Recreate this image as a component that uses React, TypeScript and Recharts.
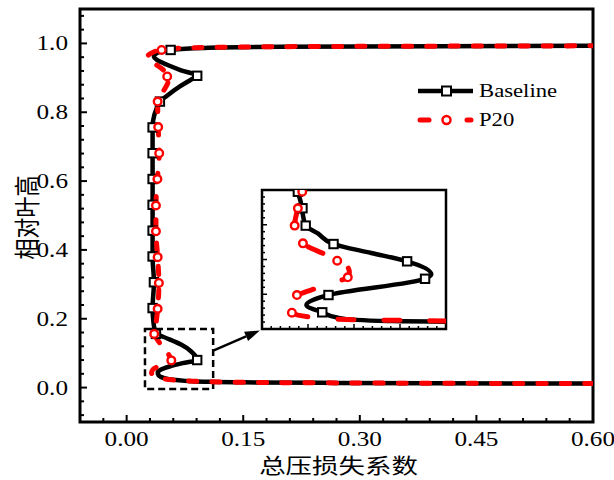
import React from 'react';
import {
  ComposedChart,
  Line,
  Scatter,
  XAxis,
  YAxis,
  ReferenceArea,
  ReferenceLine,
  Legend,
  Label,
} from 'recharts';

// main plot: x = 总压损失系数, y = 相对叶高
const baseX = [0.6, 0.4, 0.25, 0.15, 0.1, 0.075, 0.058, 0.047, 0.041, 0.04, 0.045, 0.056, 0.072, 0.0908, 0.083, 0.07, 0.053, 0.042, 0.0377, 0.0345, 0.0334, 0.0351, 0.0334, 0.0334, 0.0334, 0.0334, 0.0334, 0.0334, 0.0428, 0.052, 0.0685, 0.083, 0.0908, 0.07, 0.052, 0.039, 0.0351, 0.039, 0.0566, 0.1, 0.2, 0.4, 0.6];
const baseY = [0.0116, 0.0125, 0.0138, 0.0152, 0.017, 0.0195, 0.023, 0.0285, 0.036, 0.044, 0.053, 0.062, 0.071, 0.08, 0.105, 0.125, 0.142, 0.152, 0.156, 0.19, 0.231, 0.306, 0.381, 0.456, 0.531, 0.606, 0.681, 0.756, 0.831, 0.848, 0.875, 0.895, 0.906, 0.922, 0.938, 0.952, 0.962, 0.972, 0.981, 0.987, 0.99, 0.992, 0.993];
const p20X = [0.6, 0.4, 0.25, 0.15, 0.1, 0.075, 0.058, 0.046, 0.037, 0.032, 0.034, 0.042, 0.052, 0.0575, 0.054, 0.047, 0.04, 0.0355, 0.038, 0.0399, 0.0415, 0.0399, 0.0377, 0.0377, 0.0396, 0.0419, 0.0406, 0.0399, 0.047, 0.0535, 0.054, 0.046, 0.034, 0.0265, 0.032, 0.045, 0.07, 0.15, 0.3, 0.6];
const p20Y = [0.0116, 0.0125, 0.0138, 0.0152, 0.0175, 0.02, 0.0225, 0.026, 0.033, 0.043, 0.053, 0.063, 0.072, 0.079, 0.096, 0.116, 0.138, 0.156, 0.19, 0.229, 0.304, 0.379, 0.454, 0.529, 0.606, 0.681, 0.757, 0.831, 0.86, 0.89, 0.906, 0.925, 0.945, 0.96, 0.972, 0.981, 0.986, 0.9895, 0.9915, 0.993];

// symbols in the main plot
const baseMarkX = [0.0908, 0.0377, 0.0334, 0.0351, 0.0334, 0.0334, 0.0334, 0.0334, 0.0334, 0.0334, 0.0428, 0.0908, 0.0566];
const baseMarkY = [0.08, 0.156, 0.231, 0.306, 0.381, 0.456, 0.531, 0.606, 0.681, 0.756, 0.831, 0.906, 0.981];
const p20MarkX = [0.0575, 0.0355, 0.0399, 0.0415, 0.0399, 0.0377, 0.0377, 0.0396, 0.0419, 0.0406, 0.0399, 0.0522, 0.045];
const p20MarkY = [0.079, 0.156, 0.229, 0.304, 0.379, 0.454, 0.529, 0.606, 0.681, 0.757, 0.831, 0.904, 0.981];

// zoomed inset (hub region)
const insetBaseX = [0.12, 0.1, 0.0747, 0.06, 0.053, 0.0462, 0.0393, 0.0489, 0.0909, 0.0936, 0.0831, 0.0675, 0.0511, 0.0443, 0.039, 0.0378, 0.0368, 0.0354, 0.035];
const insetBaseY = [0.0082, 0.0084, 0.0092, 0.0107, 0.013, 0.0192, 0.0276, 0.0391, 0.0578, 0.063, 0.0779, 0.0875, 0.0978, 0.11, 0.119, 0.131, 0.1465, 0.16, 0.17];
const insetP20X = [0.12, 0.1, 0.085, 0.07, 0.05, 0.042, 0.0356, 0.033, 0.0298, 0.0352, 0.0436, 0.0523, 0.0573, 0.058, 0.0566, 0.0527, 0.048, 0.0378, 0.0362, 0.0342, 0.0356, 0.0375, 0.038];
const insetP20Y = [0.0088, 0.0092, 0.0098, 0.0103, 0.0115, 0.0135, 0.016, 0.0188, 0.0276, 0.0391, 0.0468, 0.0544, 0.0595, 0.065, 0.0736, 0.0786, 0.0852, 0.0986, 0.108, 0.119, 0.139, 0.158, 0.17];
const insetBaseMarkX = [0.0462, 0.0489, 0.0909, 0.0831, 0.0511, 0.039, 0.0376, 0.0356];
const insetBaseMarkY = [0.0192, 0.0391, 0.0578, 0.0779, 0.0978, 0.119, 0.139, 0.158];
const insetP20MarkX = [0.033, 0.0352, 0.0573, 0.0527, 0.0378, 0.0342, 0.0356, 0.0375];
const insetP20MarkY = [0.0188, 0.0391, 0.0595, 0.0786, 0.0986, 0.119, 0.139, 0.158];

// axes
const xDomain = [-0.06, 0.6];
const yDomain = [-0.1, 1.1];
const xMajorTicks = [0, 0.15, 0.3, 0.45, 0.6];
const xTicks = [-0.03, 0, 0.03, 0.06, 0.09, 0.12, 0.15, 0.18, 0.21, 0.24, 0.27, 0.3, 0.33, 0.36, 0.39, 0.42, 0.45, 0.48, 0.51, 0.54, 0.57, 0.6];
const yMajorTicks = [0, 0.2, 0.4, 0.6, 0.8, 1.0];
const yTicks = [-0.08, -0.04, 0, 0.04, 0.08, 0.12, 0.16, 0.2, 0.24, 0.28, 0.32, 0.36, 0.4, 0.44, 0.48, 0.52, 0.56, 0.6, 0.64, 0.68, 0.72, 0.76, 0.8, 0.84, 0.88, 0.92, 0.96, 1, 1.04, 1.08];
const insetXDomain = [0.02, 0.1];
const insetYDomain = [0, 0.16];
const insetXMajor = [0.04, 0.06, 0.08];
const insetXTicks = [0.024, 0.028, 0.032, 0.036, 0.04, 0.044, 0.048, 0.052, 0.056, 0.06, 0.064, 0.068, 0.072, 0.076, 0.08, 0.084, 0.088, 0.092, 0.096];
const insetYMajor = [0.04, 0.08, 0.12];
const insetYTicks = [0.008, 0.016, 0.024, 0.032, 0.04, 0.048, 0.056, 0.064, 0.072, 0.08, 0.088, 0.096, 0.104, 0.112, 0.12, 0.128, 0.136, 0.144, 0.152];

// dashed zoom box and arrow to the inset
const boxX = [0.0236, 0.1113];
const boxY = [-0.004, 0.17];
const arrowX = [0.1122, 0.1714];
const arrowY = [0.108, 0.166];

const seriesNames = ['Baseline', 'P20'];
const xTitle = '总压损失系数';
const yTitle = '相对叶高';

const SERIF = '"Liberation Serif", "Times New Roman", serif';
const CJK = '"Noto Sans CJK SC", sans-serif';
const SX = 1.26; // the original figure is stretched horizontally
const RED = '#ff0000';

const pts = (xs: number[], ys: number[]) => xs.map((x, i) => ({ x, y: ys[i] }));
const isMajor = (v: number, majors: number[]) => majors.some((m) => Math.abs(m - v) < 1e-9);

const SquareDot = (props: any) => (
  <rect x={props.cx - 4.2} y={props.cy - 4.2} width={8.4} height={8.4} fill="#fff" stroke="#000" strokeWidth={2} />
);
const CircleDot = (props: any) => (
  <circle cx={props.cx} cy={props.cy} r={3.8} fill="#fff" stroke={RED} strokeWidth={2.4} />
);

const renderXTick = (props: any) => {
  const { x, y, payload } = props;
  const major = isMajor(payload.value, xMajorTicks);
  return (
    <g>
      <line x1={x} y1={y} x2={x} y2={y - (major ? 7 : 4)} stroke="#000" strokeWidth={2} />
      {major && (
        <text transform={`translate(${x},${y + 24}) scale(${SX},1)`} textAnchor="middle" fontFamily={SERIF} fontSize={20} fill="#000">
          {payload.value.toFixed(2)}
        </text>
      )}
    </g>
  );
};

const renderYTick = (props: any) => {
  const { x, y, payload } = props;
  const major = isMajor(payload.value, yMajorTicks);
  return (
    <g>
      <line x1={x} y1={y} x2={x + (major ? 7 : 4)} y2={y} stroke="#000" strokeWidth={2} />
      {major && (
        <text transform={`translate(${x - 12},${y + 7}) scale(${SX},1)`} textAnchor="end" fontFamily={SERIF} fontSize={20} fill="#000">
          {payload.value.toFixed(1)}
        </text>
      )}
    </g>
  );
};

const insetXTick = (props: any) => {
  const { x, y, payload } = props;
  const len = isMajor(payload.value, insetXMajor) ? 5 : 3;
  return <line x1={x} y1={y} x2={x} y2={y - len} stroke="#000" strokeWidth={1.5} />;
};
const insetYTick = (props: any) => {
  const { x, y, payload } = props;
  const len = isMajor(payload.value, insetYMajor) ? 5 : 3;
  return <line x1={x} y1={y} x2={x + len} y2={y} stroke="#000" strokeWidth={1.5} />;
};

const renderXTitle = (props: any) => {
  const vb = props.viewBox;
  return (
    <text transform={`translate(${vb.x + vb.width / 2 + 2},${vb.y + 51}) scale(${SX},1)`} textAnchor="middle" fontFamily={CJK} fontSize={21} fill="#000">
      {xTitle}
    </text>
  );
};
const renderYTitle = (props: any) => {
  const vb = props.viewBox;
  return (
    <text transform={`translate(${vb.x + 25},${vb.y + vb.height / 2 + 2}) scale(${SX},1) rotate(-90)`} textAnchor="middle" dominantBaseline="central" fontFamily={CJK} fontSize={21} fill="#000">
      {yTitle}
    </text>
  );
};

const Arrow = (props: any) => {
  const { x1, y1, x2, y2 } = props;
  const a = Math.atan2(y2 - y1, x2 - x1);
  const bx = x2 - 15 * Math.cos(a);
  const by = y2 - 15 * Math.sin(a);
  const px = -Math.sin(a) * 5;
  const py = Math.cos(a) * 5;
  return (
    <g>
      <line x1={x1} y1={y1} x2={bx} y2={by} stroke="#000" strokeWidth={2.5} />
      <polygon points={`${x2},${y2} ${bx + px},${by + py} ${bx - px},${by - py}`} fill="#000" />
    </g>
  );
};

const renderLegend = () => (
  <div style={{ fontFamily: SERIF, fontSize: 18, color: '#000' }}>
    {seriesNames.map((name, i) => (
      <div key={name} style={{ display: 'flex', alignItems: 'center', height: 29 }}>
        <svg width={58} height={20}>
          {i === 0 ? (
            <g>
              <line x1={2} y1={10} x2={57} y2={10} stroke="#000" strokeWidth={4.5} />
              <rect x={26} y={5.5} width={9} height={9} fill="#fff" stroke="#000" strokeWidth={2} />
            </g>
          ) : (
            <g>
              <line x1={4} y1={10} x2={13} y2={10} stroke={RED} strokeWidth={5} strokeLinecap="round" />
              <line x1={51} y1={10} x2={55} y2={10} stroke={RED} strokeWidth={5} strokeLinecap="round" />
              <circle cx={30.5} cy={10} r={4} fill="#fff" stroke={RED} strokeWidth={2.5} />
            </g>
          )}
        </svg>
        <span style={{ display: 'inline-block', marginLeft: 5, transform: `scaleX(${SX})`, transformOrigin: 'left center', lineHeight: '20px' }}>
          {name}
        </span>
      </div>
    ))}
  </div>
);

function Inset() {
  return (
    <div style={{ position: 'absolute', left: 259, top: 187 }}>
      <ComposedChart width={190} height={145} margin={{ top: 3, right: 3, bottom: 2, left: 2 }}>
        <XAxis
          dataKey="x"
          type="number"
          domain={insetXDomain}
          allowDataOverflow
          ticks={insetXTicks}
          interval={0}
          height={1}
          tickSize={0}
          tickMargin={0}
          tickLine={false}
          axisLine={false}
          tick={insetXTick}
        />
        <YAxis
          type="number"
          domain={insetYDomain}
          allowDataOverflow
          ticks={insetYTicks}
          interval={0}
          width={1}
          tickSize={0}
          tickMargin={0}
          tickLine={false}
          axisLine={false}
          tick={insetYTick}
        />
        <ReferenceArea x1={insetXDomain[0]} x2={insetXDomain[1]} y1={insetYDomain[0]} y2={insetYDomain[1]} fill="none" stroke="#000" strokeWidth={2.5} ifOverflow="visible" />
        <Line data={pts(insetBaseX, insetBaseY)} dataKey="y" type="monotoneY" stroke="#000" strokeWidth={4.5} dot={false} activeDot={false} isAnimationActive={false} />
        <Scatter data={pts(insetBaseMarkX, insetBaseMarkY)} dataKey="y" shape={SquareDot} isAnimationActive={false} />
        <Line data={pts(insetP20X, insetP20Y)} dataKey="y" type="monotoneY" stroke={RED} strokeWidth={5} strokeDasharray="16 30" strokeLinecap="round" dot={false} activeDot={false} isAnimationActive={false} />
        <Scatter data={pts(insetP20MarkX, insetP20MarkY)} dataKey="y" shape={CircleDot} isAnimationActive={false} />
      </ComposedChart>
    </div>
  );
}

export default function App() {
  return (
    <div style={{ position: 'absolute', left: 0, top: 0, width: 614, height: 480, background: '#fff' }}>
      <ComposedChart width={614} height={480} margin={{ top: 9, right: 21, bottom: 0, left: 0 }}>
        <XAxis
          dataKey="x"
          type="number"
          domain={xDomain}
          allowDataOverflow
          ticks={xTicks}
          interval={0}
          height={58}
          tickSize={0}
          tickMargin={0}
          tickLine={false}
          axisLine={false}
          tick={renderXTick}
        >
          <Label content={renderXTitle} />
        </XAxis>
        <YAxis
          type="number"
          domain={yDomain}
          allowDataOverflow
          ticks={yTicks}
          interval={0}
          width={80}
          tickSize={0}
          tickMargin={0}
          tickLine={false}
          axisLine={false}
          tick={renderYTick}
        >
          <Label content={renderYTitle} />
        </YAxis>
        <ReferenceArea x1={xDomain[0]} x2={xDomain[1]} y1={yDomain[0]} y2={yDomain[1]} fill="none" stroke="#000" strokeWidth={3} ifOverflow="visible" />
        <ReferenceArea x1={boxX[0]} x2={boxX[1]} y1={boxY[0]} y2={boxY[1]} fill="none" stroke="#000" strokeWidth={2.5} strokeDasharray="7 4" ifOverflow="visible" />
        <ReferenceLine
          segment={[
            { x: arrowX[0], y: arrowY[0] },
            { x: arrowX[1], y: arrowY[1] },
          ]}
          shape={Arrow}
          ifOverflow="visible"
        />
        <Line data={pts(baseX, baseY)} dataKey="y" type="monotoneY" stroke="#000" strokeWidth={4.5} dot={false} activeDot={false} isAnimationActive={false} />
        <Scatter data={pts(baseMarkX, baseMarkY)} dataKey="y" shape={SquareDot} isAnimationActive={false} />
        <Line data={pts(p20X, p20Y)} dataKey="y" type="monotoneY" stroke={RED} strokeWidth={5} strokeDasharray="8.3 15" strokeLinecap="round" dot={false} activeDot={false} isAnimationActive={false} />
        <Scatter data={pts(p20MarkX, p20MarkY)} dataKey="y" shape={CircleDot} isAnimationActive={false} />
        <Legend
          layout="vertical"
          align="center"
          verticalAlign="middle"
          content={renderLegend}
          wrapperStyle={{ position: 'absolute', left: 416, top: 76, width: 180 }}
        />
      </ComposedChart>
      <Inset />
    </div>
  );
}
